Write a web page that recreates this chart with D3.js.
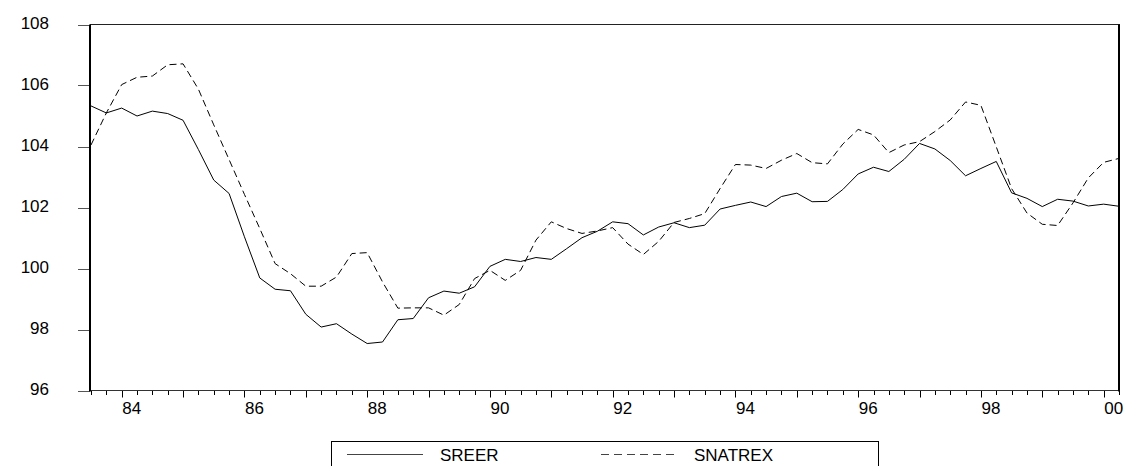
<!DOCTYPE html>
<html>
<head>
<meta charset="utf-8">
<script src="https://cdn.jsdelivr.net/npm/d3@7"></script>
<style>
  html, body { margin: 0; padding: 0; background: #fff; }
  svg { display: block; font-family: "Liberation Sans", Arial, sans-serif; }
</style>
</head>
<body>
<svg id="chart" width="1123" height="466"></svg>
<script>
// ---- data (quarterly, 1983Q3 .. 2000Q2) ----
const startYear = 1983;
const startQuarter = 3;
const sreer = [
  105.33, 105.10, 105.26, 105.00, 105.16, 105.08, 104.86, 103.90,
  102.90, 102.46, 101.04, 99.69, 99.32, 99.27, 98.50, 98.08,
  98.19, 97.85, 97.54, 97.59, 98.32, 98.36, 99.04, 99.26,
  99.19, 99.40, 100.07, 100.30, 100.23, 100.36, 100.30, 100.65,
  101.01, 101.22, 101.53, 101.47, 101.10, 101.36, 101.50, 101.34,
  101.42, 101.95, 102.07, 102.18, 102.03, 102.36, 102.47, 102.19,
  102.20, 102.59, 103.10, 103.32, 103.18, 103.58, 104.10, 103.92,
  103.54, 103.04, 103.28, 103.51, 102.48, 102.30, 102.03, 102.27,
  102.21, 102.05, 102.11, 102.04
];
const snatrex = [
  104.05, 105.10, 106.03, 106.27, 106.31, 106.68, 106.71, 105.88,
  104.71, 103.57, 102.43, 101.31, 100.16, 99.83, 99.42, 99.42,
  99.72, 100.49, 100.52, 99.56, 98.70, 98.71, 98.71, 98.47,
  98.82, 99.67, 99.94, 99.61, 99.94, 100.93, 101.53, 101.31,
  101.15, 101.23, 101.34, 100.80, 100.46, 100.89, 101.51, 101.64,
  101.80, 102.62, 103.41, 103.39, 103.28, 103.55, 103.77, 103.47,
  103.43, 104.08, 104.56, 104.38, 103.80, 104.05, 104.16, 104.49,
  104.87, 105.46, 105.35, 103.99, 102.62, 101.82, 101.45, 101.41,
  102.15, 102.97, 103.48, 103.61
];
const yTicks = [96, 98, 100, 102, 104, 106, 108];
const xTickYears = [1984, 1986, 1988, 1990, 1992, 1994, 1996, 1998, 2000];
const xTickLabels = ["84", "86", "88", "90", "92", "94", "96", "98", "00"];
const seriesNames = ["SREER", "SNATREX"];

// period (decimal year) of each observation
const periods = sreer.map((_, i) => startYear + (startQuarter - 1) / 4 + i / 4);

(function () {
  const svg = d3.select("#chart");
  const pL = 90, pR = 1119, pT = 24.5, pB = 390.5;

  const x = d3.scaleLinear()
    .domain([periods[0], periods[periods.length - 1]])
    .range([pL + 1, pR]);
  const y = d3.scaleLinear().domain([96, 108]).range([pB, pT]);

  // y axis ticks (outside to the left)
  svg.append("g").selectAll("line").data(yTicks).enter().append("line")
    .attr("x1", 78).attr("x2", pL)
    .attr("y1", d => Math.round(y(d)) + 0.5).attr("y2", d => Math.round(y(d)) + 0.5)
    .attr("stroke", "#555").attr("stroke-width", 1);

  svg.append("g").selectAll("text").data(yTicks).enter().append("text")
    .attr("x", 49).attr("y", d => y(d) + 4)
    .attr("text-anchor", "end")
    .attr("font-size", 17).attr("fill", "#000")
    .text(d => d);

  // x axis ticks: every quarter, longer at year start
  svg.append("g").selectAll("line").data(periods).enter().append("line")
    .attr("x1", d => Math.round(x(d)) + 0.5).attr("x2", d => Math.round(x(d)) + 0.5)
    .attr("y1", pB)
    .attr("y2", d => Math.abs(d - Math.round(d)) < 1e-6 ? pB + 7 : pB + 4.5)
    .attr("stroke", "#000").attr("stroke-width", 1);

  svg.append("g").selectAll("text").data(xTickYears).enter().append("text")
    .attr("x", d => x(d) + 10).attr("y", 414)
    .attr("text-anchor", "middle")
    .attr("font-size", 17).attr("fill", "#000")
    .text((d, i) => xTickLabels[i]);

  // frame
  svg.append("line").attr("x1", pL).attr("x2", pR + 1).attr("y1", pT).attr("y2", pT)
    .attr("stroke", "#222").attr("stroke-width", 1);
  svg.append("line").attr("x1", pL - 1).attr("x2", pR + 1).attr("y1", pB).attr("y2", pB)
    .attr("stroke", "#333").attr("stroke-width", 1);
  svg.append("line").attr("x1", pL).attr("x2", pL).attr("y1", pT).attr("y2", pB + 1)
    .attr("stroke", "#000").attr("stroke-width", 2);
  svg.append("line").attr("x1", pR).attr("x2", pR).attr("y1", pT).attr("y2", pB + 1)
    .attr("stroke", "#000").attr("stroke-width", 2);

  // series
  const line = d3.line().x((d, i) => x(periods[i])).y(d => y(d));
  svg.append("path").datum(sreer).attr("d", line)
    .attr("fill", "none").attr("stroke", "#000").attr("stroke-width", 1);
  svg.append("path").datum(snatrex).attr("d", line)
    .attr("fill", "none").attr("stroke", "#000").attr("stroke-width", 1)
    .attr("stroke-dasharray", "7,4");

  // legend
  const lg = svg.append("g");
  lg.append("rect").attr("x", 331.5).attr("y", 441.5).attr("width", 547).attr("height", 40)
    .attr("fill", "none").attr("stroke", "#000").attr("stroke-width", 1);
  lg.append("line").attr("x1", 347).attr("x2", 423).attr("y1", 454.5).attr("y2", 454.5)
    .attr("stroke", "#444").attr("stroke-width", 1);
  lg.append("text").attr("x", 440).attr("y", 460.5).attr("font-size", 17).text(seriesNames[0]);
  lg.append("line").attr("x1", 601).attr("x2", 679).attr("y1", 454.5).attr("y2", 454.5)
    .attr("stroke", "#444").attr("stroke-width", 1).attr("stroke-dasharray", "8,5");
  lg.append("text").attr("x", 694).attr("y", 460.5).attr("font-size", 17).text(seriesNames[1]);
})();
</script>
</body>
</html>
